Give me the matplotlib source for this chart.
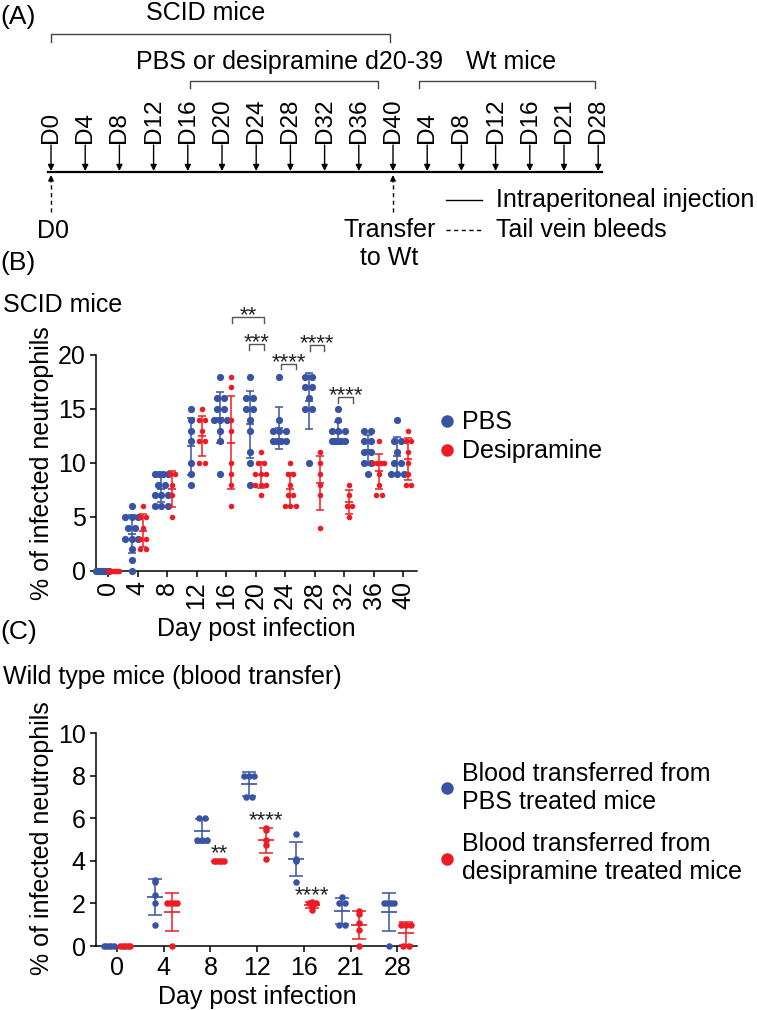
import numpy as np
import matplotlib
matplotlib.use("Agg")
import matplotlib.pyplot as plt
from matplotlib.lines import Line2D

plt.rcParams["font.family"] = ["Liberation Sans", "DejaVu Sans"]

W, H, DPI = 757, 1010, 100
BLUE = "#3953A4"
RED = "#ED1C24"

# ---------------- data ----------------
timeline_labels = ["D0", "D4", "D8", "D12", "D16", "D20", "D24", "D28", "D32",
                   "D36", "D40", "D4", "D8", "D12", "D16", "D21", "D28"]

scid_days = ["0", "4", "8", "12", "16", "20", "24", "28", "32", "36", "40"]
scid_pbs = [
    [0, 0, 0, 0, 0, 0, 0, 0],
    [6, 5, 5, 5, 4, 4, 3, 3, 3, 2, 1, 0],
    [9, 9, 9, 9, 8, 8, 7, 7, 7, 6, 6, 6],
    [15, 14, 13, 12, 10, 9, 8],
    [18, 16, 16, 15, 15, 14, 14, 14, 13, 12, 9],
    [18, 16, 16, 15, 15, 14, 13, 11, 10, 8],
    [18, 14, 13, 13, 13, 12, 12, 12, 12],
    [18, 18, 17, 17, 16, 15, 15, 10],
    [15, 14, 13, 13, 13, 12, 12, 12, 12, 12],
    [13, 13, 12, 12, 11, 11, 10, 10, 9],
    [14, 12, 12, 11, 10, 10, 9, 9, 9],
]
scid_desi = [
    [0, 0, 0, 0, 0, 0, 0, 0],
    [6, 5, 5, 4, 3, 3, 2, 2],
    [9, 9, 8, 7, 5],
    [15, 14, 14, 13, 12, 12, 10, 10],
    [18, 17, 14, 13, 10, 9, 8, 6],
    [11, 10, 10, 9, 9, 9, 8, 8, 8, 7],
    [10, 9, 9, 8, 7, 7, 6, 6, 6],
    [11, 10, 9, 8, 7, 4],
    [8, 7, 6, 6, 5],
    [12, 10, 10, 10, 10, 9, 8, 7, 7],
    [13, 12, 12, 11, 10, 9, 8, 8],
]
scid_sig = ["**", "***", "****", "****", "****"]

wt_days = ["0", "4", "8", "12", "16", "21", "28"]
wt_pbs = [
    [0, 0, 0, 0, 0],
    [3.1, 3.0, 2.4, 2.0, 1.0],
    [6, 6, 5, 5, 5],
    [8, 8, 8, 7, 7],
    [5.25, 4.1, 4.05, 4.0, 3.0],
    [2.3, 2.0, 2.0, 1.0, 1.0],
    [2, 2, 2, 2, 0],
]
wt_desi = [
    [0, 0, 0, 0, 0],
    [2, 2, 2, 2, 0],
    [4, 4, 4, 4, 4],
    [5.55, 5.45, 5.0, 4.75, 4.1],
    [2.05, 2.0, 2.0, 1.85, 1.7],
    [1.65, 1.5, 1.1, 0.75, 0],
    [1, 1, 1, 0, 0],
]
wt_sig = ["", "", "**", "****", "****", "", ""]

# ---------------- helpers ----------------
fig = plt.figure(figsize=(W / DPI, H / DPI), dpi=DPI)


def fx(px):
    return px / W


def fy(py):
    return 1 - py / H


def row_offsets(vals, spacing, maxw):
    vals = np.asarray(vals, float)
    off = np.zeros(len(vals))
    for v in np.unique(vals):
        idx = np.where(vals == v)[0]
        n = len(idx)
        if n > 1:
            s = min(spacing, maxw / (n - 1))
            off[idx] = (np.arange(n) - (n - 1) / 2) * s
    return off


def draw_group(ax, xc, vals, color, ms, spacing, maxw, px_per_x, cap, meanw):
    vals = np.asarray(vals, float)
    off = row_offsets(vals, spacing, maxw) / px_per_x
    ax.scatter(xc + off, vals, s=ms ** 2, color=color, zorder=3,
               clip_on=False, linewidths=0)
    m = vals.mean()
    sd = vals.std(ddof=1) if len(vals) > 1 else 0.0
    if sd > 0:
        ax.errorbar([xc], [m], yerr=[sd], fmt="none", ecolor=color,
                    elinewidth=1.1, capsize=cap, capthick=1.1, zorder=4,
                    clip_on=False)
    ax.plot([xc], [m], marker="_", ms=meanw, mew=1.2, color=color,
            zorder=4, clip_on=False)


def style_axes(ax):
    for s in ["top", "right"]:
        ax.spines[s].set_visible(False)
    for s in ["left", "bottom"]:
        ax.spines[s].set_linewidth(1.1)
    ax.tick_params(length=4.5, width=1.1, labelsize=18, pad=3)


# ---------------- panel A ----------------
axA = fig.add_axes([0, fy(250), 1, 250 / H])
axA.axis("off")
step = 34.2
x0p = 51
axA.set_xlim(-x0p / step, (W - x0p) / step)
axA.set_ylim(250, 0)

fig.text(fx(0), fy(17), "(A)", ha="left", va="center", fontsize=19)

for i, lab in enumerate(timeline_labels):
    axA.text(i, 143, lab, rotation=90, ha="center", va="bottom", fontsize=17.5)
    axA.annotate("", xy=(i, 171), xytext=(i, 145),
                 arrowprops=dict(arrowstyle="-|>", color="k", lw=1,
                                 mutation_scale=9, shrinkA=0, shrinkB=0))
n_tl = len(timeline_labels)
axA.plot([-0.08, n_tl - 1 + 0.1], [172, 172], color="k", lw=1.6)

for i in (0, 10):
    axA.plot([i, i], [212, 181], color="k", lw=1, ls=(0, (3, 2.5)))
    axA.annotate("", xy=(i, 175), xytext=(i, 182),
                 arrowprops=dict(arrowstyle="-|>", color="k", lw=1,
                                 mutation_scale=8, shrinkA=0, shrinkB=0))


def bracketA(a, b, y, arm):
    axA.plot([a, a, b, b], [y + arm, y, y, y + arm], color="#444444", lw=1)


bracketA(0, 9.9, 34, 8)
bracketA(4.05, 9.55, 81, 7)
bracketA(10.75, 15.9, 81, 7)
axA.text(4.53, 13, "SCID mice", ha="center", va="center", fontsize=18)
axA.text(6.96, 62, "PBS or desipramine d20-39", ha="center", va="center", fontsize=18)
axA.text(13.45, 62, "Wt mice", ha="center", va="center", fontsize=18)
axA.text(0.05, 231, "D0", ha="center", va="center", fontsize=18)
axA.text(9.9, 230, "Transfer", ha="center", va="center", fontsize=18)
axA.text(9.9, 258, "to Wt", ha="center", va="center", fontsize=18)
axA.plot([11.55, 12.6], [200, 200], color="k", lw=1)
axA.plot([11.55, 12.6], [230, 230], color="k", lw=1, ls=(0, (3, 2.5)))
axA.text(13.0, 200, "Intraperitoneal injection", ha="left", va="center", fontsize=18)
axA.text(13.0, 230, "Tail vein bleeds", ha="left", va="center", fontsize=18)

# ---------------- panel B ----------------
fig.text(fx(0), fy(263), "(B)", ha="left", va="center", fontsize=19)
fig.text(fx(3), fy(305), "SCID mice", ha="left", va="center", fontsize=18)

axB = fig.add_axes([fx(96), fy(571), (417 - 96) / W, (571 - 355) / H])
xlB = (-0.41, 10.47)
axB.set_xlim(*xlB)
axB.set_ylim(0, 20)
pxB = 321 / (xlB[1] - xlB[0])
style_axes(axB)
for i in range(len(scid_days)):
    draw_group(axB, i - 0.2, scid_pbs[i], BLUE, 5.2, 7, 13, pxB, 2.9, 5.8)
    draw_group(axB, i + 0.18, scid_desi[i], RED, 4.0, 5.5, 11, pxB, 2.9, 5.8)
axB.set_xticks(range(len(scid_days)))
axB.set_xticklabels(scid_days, rotation=90)
axB.set_yticks([0, 5, 10, 15, 20])
axB.set_xlabel("Day post infection", fontsize=18)
axB.set_ylabel("% of infected neutrophils", fontsize=18)
axB.xaxis.set_label_coords(0.498, -0.215)
axB.yaxis.set_label_coords(-0.13, 0.5)

brk_B = [(4.2, 5.29, 23.5), (4.78, 5.29, 21.0), (5.86, 6.37, 19.2),
         (6.85, 7.32, 20.9), (7.8, 8.3, 16.1)]
for (a, b, y), lab in zip(brk_B, scid_sig):
    axB.plot([a, a, b, b], [y - 0.5, y, y, y - 0.5], color="#555555", lw=1,
             clip_on=False)
    axB.annotate(lab, xy=((a + b) / 2, y), xytext=(0, -3), textcoords="offset points",
                 ha="center", va="baseline", fontsize=16, color="#222222",
                 annotation_clip=False)

hB = [Line2D([], [], ls="none", marker="o", ms=9, color=BLUE, mew=0),
      Line2D([], [], ls="none", marker="o", ms=9, color=RED, mew=0)]
fig.legend(hB, ["PBS", "Desipramine"], loc="center left",
           bbox_to_anchor=(fx(441), fy(437)), frameon=False, fontsize=18,
           handlelength=0.5, handletextpad=0.35, labelspacing=0.2, borderpad=0,
           borderaxespad=0)

# ---------------- panel C ----------------
fig.text(fx(0), fy(632), "(C)", ha="left", va="center", fontsize=19)
fig.text(fx(3), fy(677), "Wild type mice (blood transfer)", ha="left", va="center",
         fontsize=18)

axC = fig.add_axes([fx(96), fy(946), (417 - 96) / W, (946 - 733) / H])
xlC = (-0.45, 6.42)
axC.set_xlim(*xlC)
axC.set_ylim(0, 10)
pxC = 321 / (xlC[1] - xlC[0])
style_axes(axC)
for i in range(len(wt_days)):
    draw_group(axC, i - 0.18, wt_pbs[i], BLUE, 4.7, 6.5, 10, pxC, 4.7, 12)
    draw_group(axC, i + 0.18, wt_desi[i], RED, 4.7, 6.5, 10, pxC, 4.7, 12)
    if wt_sig[i]:
        axC.annotate(wt_sig[i], xy=(i + 0.18, max(wt_desi[i])), xytext=(0, 1),
                     textcoords="offset points", ha="center", va="baseline",
                     fontsize=16, color="#222222")
axC.set_xticks(range(len(wt_days)))
axC.set_xticklabels(wt_days)
axC.set_yticks([0, 2, 4, 6, 8, 10])
axC.set_xlabel("Day post infection", fontsize=18)
axC.set_ylabel("% of infected neutrophils", fontsize=18)
axC.xaxis.set_label_coords(0.502, -0.185)
axC.yaxis.set_label_coords(-0.13, 0.507)

hC = [Line2D([], [], ls="none", marker="o", ms=9, color=BLUE, mew=0),
      Line2D([], [], ls="none", marker="o", ms=9, color=RED, mew=0)]
fig.legend(hC, ["Blood transferred from\nPBS treated mice",
                "Blood transferred from\ndesipramine treated mice"],
           loc="center left", bbox_to_anchor=(fx(441), fy(823)), frameon=False,
           fontsize=18, handlelength=0.5, handletextpad=0.35, labelspacing=0.75,
           borderpad=0, borderaxespad=0)

fig.savefig("out.png", dpi=DPI)
